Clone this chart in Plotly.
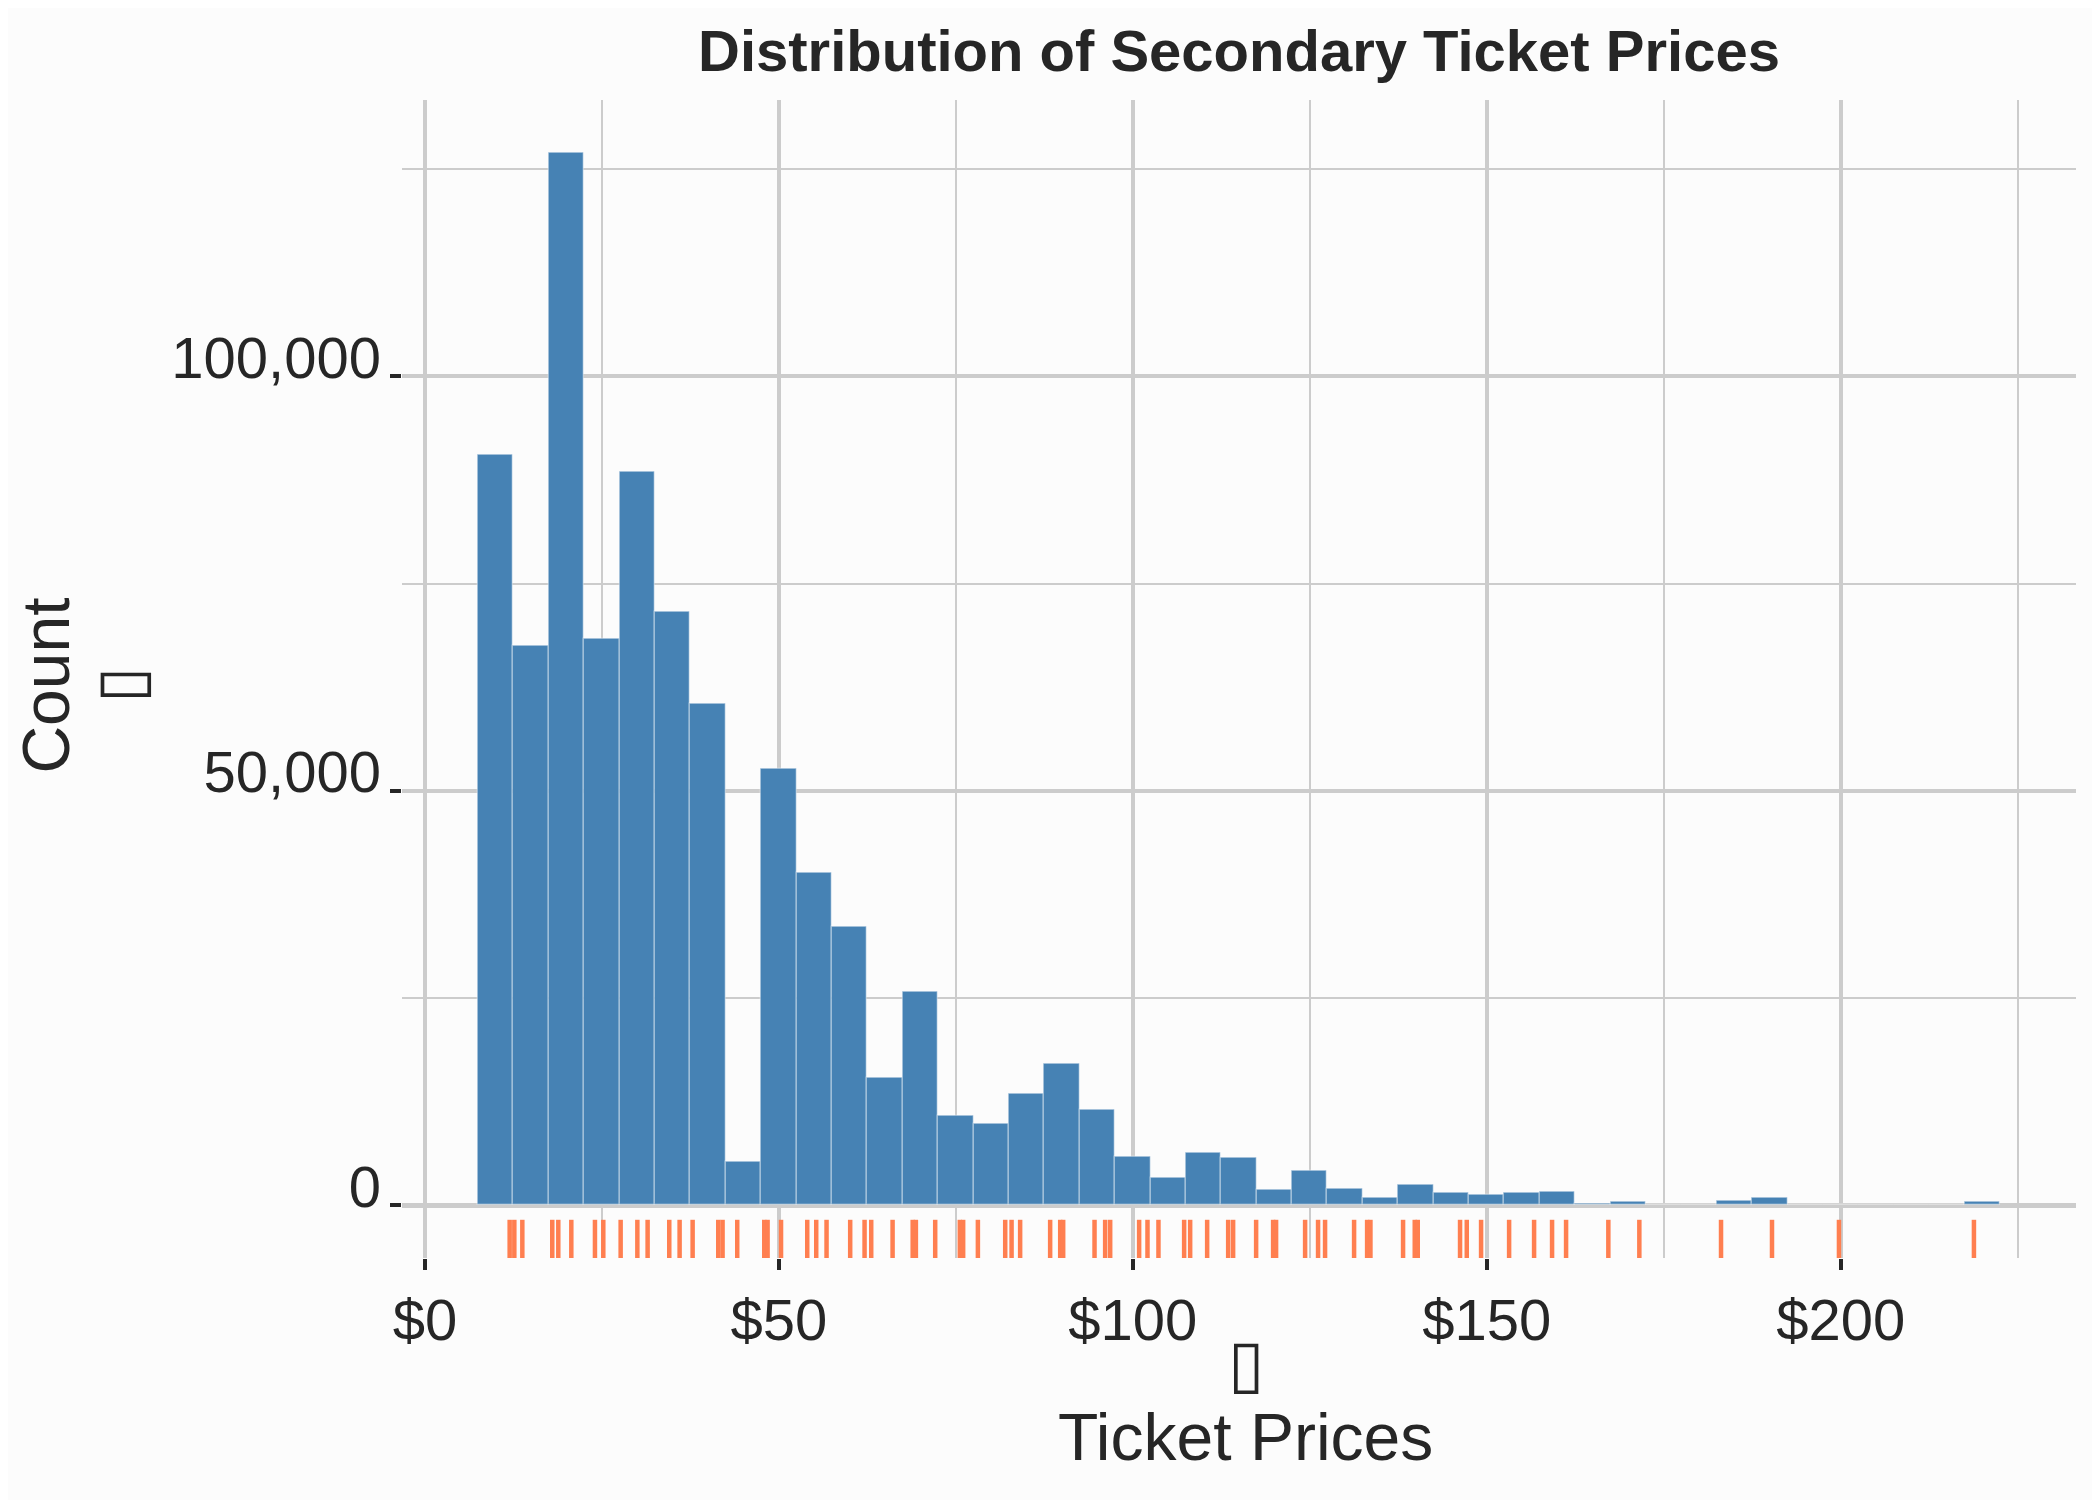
import plotly.graph_objects as go

# ---- data ----
bin_centers = [10, 15, 20, 25, 30, 35, 40, 45, 50, 55, 60, 65, 70, 75, 80, 85, 90, 95,
               100, 105, 110, 115, 120, 125, 130, 135, 140, 145, 150, 155, 160, 165, 170,
               175, 180, 185, 190, 195, 200, 205, 210, 215, 220]
bin_width = 5
counts = [90530, 67540, 126940, 68290, 88510, 71570, 60490, 5290, 52600, 40100, 33560,
          15400, 25800, 10830, 9790, 13400, 17000, 11450, 5820, 3300, 6300, 5720, 1820,
          4200, 1960, 920, 2480, 1490, 1290, 1450, 1570, 160, 360, 0, 0, 560, 920, 0, 60,
          0, 0, 0, 360]

rug_prices = [11.96, 12.62, 13.75, 17.98, 18.83, 20.67, 24.01, 25.19, 27.64, 30.0, 31.45,
              34.51, 35.97, 37.81, 41.43, 42.04, 44.11, 47.93, 48.40, 50.3, 54.0, 55.27,
              56.73, 60.07, 62.10, 63.04, 66.06, 68.9, 69.35, 72.08, 75.56, 76.03, 78.11,
              81.97, 82.87, 84.08, 88.32, 89.74, 90.16, 94.59, 96.09, 96.80, 100.89,
              102.07, 103.62, 107.25, 108.1, 110.5, 113.47, 114.17, 117.42, 119.82,
              120.24, 124.34, 126.17, 127.16, 131.26, 133.1, 133.57, 138.18, 139.83,
              140.25, 146.23, 147.18, 149.2, 153.16, 156.69, 159.23, 161.21, 167.18,
              171.56, 183.1, 190.3, 199.76, 218.83]

x_tickvals = [0, 50, 100, 150, 200]
x_ticktext = ["$0", "$50", "$100", "$150", "$200"]
x_minorvals = [25, 75, 125, 175, 225]
y_tickvals = [0, 50000, 100000]
y_ticktext = ["0", "50,000", "100,000"]
y_minorvals = [25000, 75000, 125000]

title_text = "Distribution of Secondary Ticket Prices"
x_title_lines = ["\u25af", "Ticket Prices"]
y_title_lines = ["Count", "\u25af"]

# ---- styling ----
FONT = "Liberation Sans, Arial, Helvetica, sans-serif"
TXT = "#262626"
GRID = "#cccccc"
BG = "#fcfcfc"

Y_RANGE = [-6350, 133350]
LABEL_LIFT = 2300  # tick labels sit just above their tick (bottom-aligned)


def big(lines):
    return "<br>".join(f"<span style='font-size:66px'>{s}</span>" for s in lines)


rug_height = 0.033
rug_x, rug_y = [], []
for v in rug_prices:
    rug_x += [v, v, None]
    rug_y += [0, rug_height, None]

fig = go.Figure()
fig.add_trace(go.Bar(
    x=bin_centers, y=counts, width=bin_width,
    marker=dict(color="#4682b4", line=dict(color="rgba(255,255,255,0.35)", width=1.5)),
    showlegend=False, hoverinfo="x+y",
))
fig.add_trace(go.Scatter(
    x=rug_x, y=rug_y, yaxis="y2", mode="lines",
    line=dict(color="#ff7f50", width=4.5),
    showlegend=False, hoverinfo="skip",
))
# invisible carrier for the y tick labels axis
fig.add_trace(go.Scatter(x=[None], y=[None], yaxis="y3", showlegend=False, hoverinfo="skip"))

fig.update_layout(
    width=2092, height=1492,
    margin=dict(l=394, r=24, t=92, b=242),
    paper_bgcolor=BG, plot_bgcolor=BG,
    bargap=0,
    font=dict(family=FONT, color=TXT, size=58),
    title=dict(text=f"<b>{title_text}</b>", x=0.5, xref="paper", xanchor="center",
               y=0.9712, yanchor="middle", font=dict(size=58, color=TXT)),
    xaxis=dict(
        range=[-3.25, 233.25],
        tickmode="array", tickvals=x_tickvals, ticktext=x_ticktext,
        showgrid=True, gridcolor=GRID, gridwidth=4,
        minor=dict(tickmode="array", tickvals=x_minorvals, showgrid=True,
                   gridcolor=GRID, gridwidth=2, ticks=""),
        zeroline=False, showline=False,
        ticks="outside", ticklen=11, tickwidth=4, tickcolor="#262626",
        tickfont=dict(size=58, color=TXT),
    ),
    yaxis=dict(
        range=Y_RANGE,
        tickmode="array", tickvals=y_tickvals, ticktext=y_ticktext,
        showticklabels=False,
        showgrid=True, gridcolor=GRID, gridwidth=4,
        minor=dict(tickmode="array", tickvals=y_minorvals, showgrid=True,
                   gridcolor=GRID, gridwidth=2, ticks=""),
        zeroline=True, zerolinecolor=GRID, zerolinewidth=5,
        showline=False,
        ticks="outside", ticklen=11, tickwidth=4, tickcolor="#262626",
    ),
    yaxis2=dict(overlaying="y", range=[0, 1], visible=False, fixedrange=True),
    yaxis3=dict(
        overlaying="y", side="left", anchor="x",
        range=[Y_RANGE[0] - LABEL_LIFT, Y_RANGE[1] - LABEL_LIFT],
        tickmode="array", tickvals=y_tickvals, ticktext=y_ticktext,
        showgrid=False, zeroline=False, showline=False, ticks="",
        ticklabelstandoff=20,
        tickfont=dict(size=58, color=TXT),
    ),
    annotations=[
        dict(text=big(x_title_lines), xref="paper", yref="paper", x=0.504, y=-0.1223,
             xanchor="center", yanchor="middle", showarrow=False,
             font=dict(size=57, color=TXT)),
        dict(text=big(y_title_lines), xref="paper", yref="paper", x=-0.1908, y=0.494,
             xanchor="center", yanchor="middle", showarrow=False, textangle=-90,
             font=dict(size=57, color=TXT)),
    ],
)

fig.write_html("out.html")
